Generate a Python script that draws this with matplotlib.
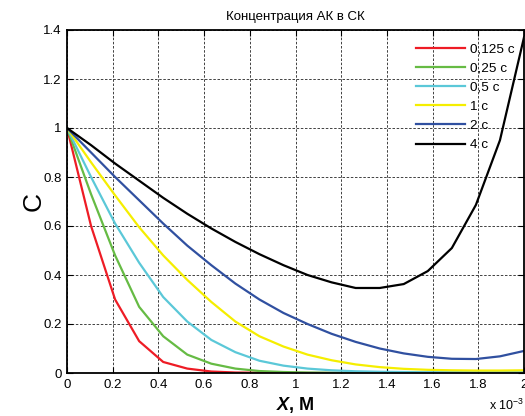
import numpy as np
import matplotlib
matplotlib.use("Agg")
import matplotlib.pyplot as plt
from matplotlib.ticker import FuncFormatter, MultipleLocator

plt.rcParams['font.family'] = ['Liberation Sans', 'DejaVu Sans']
plt.rcParams['mathtext.fontset'] = 'custom'
plt.rcParams['mathtext.it'] = 'Liberation Sans:italic:bold'
plt.rcParams['mathtext.rm'] = 'Liberation Sans'

# coordinate, m (20 grid nodes over 2 mm)
x_m = np.linspace(0, 2e-3, 20)

c_0125 = [1, 0.60, 0.30, 0.13, 0.045, 0.018, 0.006, 0.002, 0.001, 0, 0, 0, 0, 0, 0, 0, 0, 0, 0, 0]
c_025 = [1, 0.73, 0.48, 0.27, 0.15, 0.075, 0.038, 0.018, 0.008, 0.004, 0.002, 0.001, 0, 0, 0, 0, 0, 0, 0, 0]
c_05 = [1, 0.80, 0.61, 0.45, 0.31, 0.21, 0.135, 0.085, 0.05, 0.03, 0.018, 0.011, 0.007, 0.005, 0.004, 0.003, 0.003, 0.003, 0.003, 0.003]
c_1 = [1, 0.86, 0.725, 0.595, 0.48, 0.38, 0.29, 0.21, 0.15, 0.108, 0.075, 0.052, 0.035, 0.024, 0.017, 0.013, 0.011, 0.010, 0.010, 0.011]
c_2 = [1, 0.90, 0.80, 0.705, 0.61, 0.52, 0.44, 0.365, 0.30, 0.245, 0.20, 0.16, 0.127, 0.10, 0.08, 0.066, 0.058, 0.057, 0.068, 0.09]
c_4 = [1, 0.93, 0.855, 0.785, 0.715, 0.65, 0.59, 0.535, 0.485, 0.44, 0.40, 0.37, 0.347, 0.347, 0.363, 0.416, 0.51, 0.686, 0.95, 1.37]

series = [c_0125, c_025, c_05, c_1, c_2, c_4]
labels = ['0,125 с', '0,25 с', '0,5 с', '1 с', '2 с', '4 с']
colors = ['#ee1c25', '#66bb44', '#5bc8d8', '#f5ee00', '#3050a0', '#000000']

W, H = 525, 416
fig = plt.figure(figsize=(W/100, H/100), dpi=100)
ax = fig.add_axes([67/W, (H-373)/H, (524-67)/W, (373-30)/H])

for c, lab, col in zip(series, labels, colors):
    ax.plot(x_m, c, color=col, lw=1.6, label=lab)

ax.set_xlim(0, 2e-3)
ax.set_ylim(0, 1.4)
ax.xaxis.set_major_locator(MultipleLocator(0.2e-3))
ax.yaxis.set_major_locator(MultipleLocator(0.2))
ax.xaxis.set_major_formatter(FuncFormatter(lambda v, p: "{:g}".format(round(v*1e3, 3))))
ax.yaxis.set_major_formatter(FuncFormatter(lambda v, p: "{:g}".format(round(v, 3))))
ax.tick_params(direction='in', length=4, width=0.8, top=True, right=True, labelsize=9.5, pad=4)
ax.grid(True, color='#222222', linestyle=(0, (3, 2)), linewidth=0.6)
for s in ax.spines.values():
    s.set_linewidth(1.3)

ax.set_title('Концентрация АК в СК', fontsize=9.5, pad=7)
ax.set_ylabel('C', fontsize=19, labelpad=-2)
ax.set_xlabel(r'$X$, М', fontsize=13, fontweight='bold', labelpad=3)
fig.text(489/W, 1-410/H, r'x 10$^{-3}$', fontsize=9, va='baseline')

ax.legend(loc='upper left', bbox_to_anchor=(416/W, 1-43/H), bbox_transform=fig.transFigure,
          frameon=False, fontsize=9.7, handlelength=3.6, handletextpad=0.4,
          labelspacing=0.5, borderpad=0, borderaxespad=0)

fig.savefig('out.png', dpi=100)
